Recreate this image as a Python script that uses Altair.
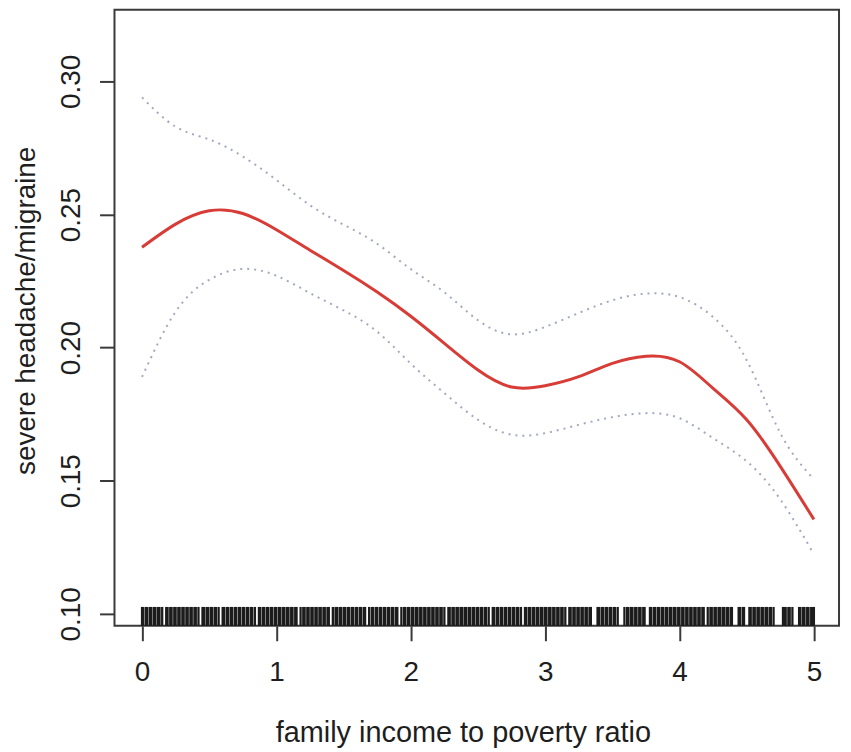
import altair as alt
import pandas as pd

# ---- data ----
X_GRID = [0.0, 0.25, 0.5, 0.75, 1.0, 1.25, 1.5, 1.75, 2.0, 2.25, 2.5,
          2.75, 3.0, 3.25, 3.5, 3.75, 4.0, 4.25, 4.5, 4.75, 5.0]
FIT = [0.2377, 0.2464, 0.2514, 0.2504, 0.2443, 0.2366, 0.2290, 0.2209,
       0.2118, 0.2016, 0.1916, 0.1852, 0.1857, 0.1891, 0.1941, 0.1968,
       0.1947, 0.1847, 0.1729, 0.1554, 0.1355]
UPPER = [0.2940, 0.2830, 0.2782, 0.2718, 0.2630, 0.2535, 0.2462, 0.2390,
         0.2295, 0.2208, 0.2103, 0.2050, 0.2078, 0.2130, 0.2178, 0.2203,
         0.2190, 0.2115, 0.1953, 0.1679, 0.1505]
LOWER = [0.1890, 0.2135, 0.2255, 0.2296, 0.2270, 0.2205, 0.2140, 0.2060,
         0.1940, 0.1829, 0.1729, 0.1673, 0.1679, 0.1710, 0.1739, 0.1754,
         0.1735, 0.1660, 0.1573, 0.1430, 0.1224]

# rug positions (hundredths of the income-to-poverty ratio)
RUG_HUNDREDTHS = [
    0, 1, 3, 4, 6, 7, 9, 10, 12, 13, 15, 18, 19, 21, 22, 24, 25, 27, 28, 30,
    31, 33, 34, 36, 37, 39, 40, 42, 45, 46, 48, 49, 51, 52, 54, 55, 57, 60,
    61, 63, 64, 66, 67, 69, 70, 72, 73, 75, 76, 78, 79, 81, 82, 84, 87, 88,
    90, 91, 93, 94, 96, 97, 99,
    100, 102, 103, 105, 106, 108, 109, 111, 112, 114, 115, 118, 120, 121,
    123, 124, 126, 127, 129, 130, 132, 133, 135, 136, 138, 139, 142, 144,
    145, 147, 148, 150, 151, 153, 154, 156, 157, 159, 160, 162, 163, 165,
    166, 169, 171, 172, 174, 175, 177, 178, 180, 181, 183, 184, 186, 187,
    189, 190, 193, 195, 196, 198, 199,
    201, 202, 204, 205, 207, 208, 210, 211, 213, 214, 216, 217, 219, 220,
    222, 223, 225, 228, 229, 231, 232, 234, 235, 237, 238, 240, 241, 243,
    244, 246, 247, 249, 250, 252, 253, 255, 256, 258, 261, 262, 264, 265,
    267, 268, 270, 271, 273, 274, 276, 277, 279, 280, 282, 285, 286, 288,
    289, 291, 292, 294, 295, 297, 298,
    300, 301, 303, 304, 306, 307, 309, 310, 312, 313, 315, 318, 319, 321,
    322, 324, 325, 327, 328, 330, 331, 333, 334, 339, 340, 342, 343, 345,
    346, 348, 349, 351, 352, 354, 359, 361, 362, 364, 365, 367, 368, 370,
    371, 373, 374, 378, 379, 381, 382, 384, 385, 387, 388, 390, 391, 393,
    394, 396, 397, 399,
    400, 402, 403, 405, 406, 408, 409, 411, 412, 414, 415, 417, 418, 421,
    423, 424, 426, 427, 429, 430, 432, 433, 435, 436, 438, 439, 444, 445,
    447, 448, 452, 453, 455, 456, 458, 459, 461, 462, 464, 465, 467, 468,
    470, 477, 478, 479, 481, 482, 484, 489, 490, 492, 493, 495, 496, 498,
    499, 500,
]

X_TICKS = [0, 1, 2, 3, 4, 5]
Y_TICKS = [0.10, 0.15, 0.20, 0.25, 0.30]
X_TITLE = "family income to poverty ratio"
Y_TITLE = "severe headache/migraine"

# ---- frames ----
curve = pd.DataFrame({"x": X_GRID, "fit": FIT, "upper": UPPER, "lower": LOWER})
rug = pd.DataFrame({"x": [v / 100 for v in RUG_HUNDREDTHS]})

X_DOMAIN = [-0.205, 5.187]
Y_DOMAIN = [0.09551, 0.32692]
RUG_TOP = 0.1026

xs = alt.Scale(domain=X_DOMAIN, nice=False, zero=False)
ys = alt.Scale(domain=Y_DOMAIN, nice=False, zero=False)

TXT = "#1e1e1e"
AX = "#3a3a3a"
FONT = "Liberation Sans"
CI = "#a2a9bf"

x_axis = alt.Axis(
    values=X_TICKS, format="d", grid=False, domain=False,
    tickSize=15, tickWidth=2, tickColor=AX,
    labelFontSize=28, labelFont=FONT, labelColor=TXT,
    labelBaseline="alphabetic", labelPadding=40,
    title=X_TITLE, titleFontSize=29, titleFont=FONT, titleColor=TXT,
    titleFontWeight="normal", titleBaseline="alphabetic", titleAlign="center",
    titleX=350, titleY=116, titleAngle=0,
)
y_axis = alt.Axis(
    values=Y_TICKS, format=".2f", grid=False, domain=False,
    tickSize=15, tickWidth=2, tickColor=AX,
    labelFontSize=28, labelFont=FONT, labelColor=TXT,
    labelAngle=270, labelAlign="center", labelBaseline="alphabetic",
    labelPadding=20,
    title=Y_TITLE, titleFontSize=28, titleFont=FONT, titleColor=TXT,
    titleFontWeight="normal", titleBaseline="alphabetic", titleAlign="center",
    titleAngle=270, titleX=-80, titleY=302,
)

base = alt.Chart(curve)

rug_layer = alt.Chart(rug).mark_rule(color="#1c1c1c", strokeWidth=2.3).encode(
    x=alt.X("x:Q", scale=xs, axis=x_axis),
    y=alt.datum(Y_DOMAIN[0], scale=ys, axis=y_axis),
    y2=alt.datum(RUG_TOP),
)

upper_layer = base.mark_line(
    color=CI, strokeWidth=2, strokeDash=[2, 5], interpolate="natural"
).encode(x=alt.X("x:Q", scale=xs), y=alt.Y("upper:Q", scale=ys))

lower_layer = base.mark_line(
    color=CI, strokeWidth=2, strokeDash=[2, 5], interpolate="natural"
).encode(x=alt.X("x:Q", scale=xs), y=alt.Y("lower:Q", scale=ys))

fit_layer = base.mark_line(
    color="#d83c36", strokeWidth=3, interpolate="natural"
).encode(x=alt.X("x:Q", scale=xs), y=alt.Y("fit:Q", scale=ys))

chart = alt.layer(rug_layer, upper_layer, lower_layer, fit_layer).properties(
    width=728, height=619,
    autosize=alt.AutoSizeParams(type="none"),
    padding={"left": 107, "top": 0, "right": 4, "bottom": 125},
    background="white",
).configure_view(stroke=AX, strokeWidth=2)

chart.save("out.html", embed_options={"renderer": "svg", "actions": False})
